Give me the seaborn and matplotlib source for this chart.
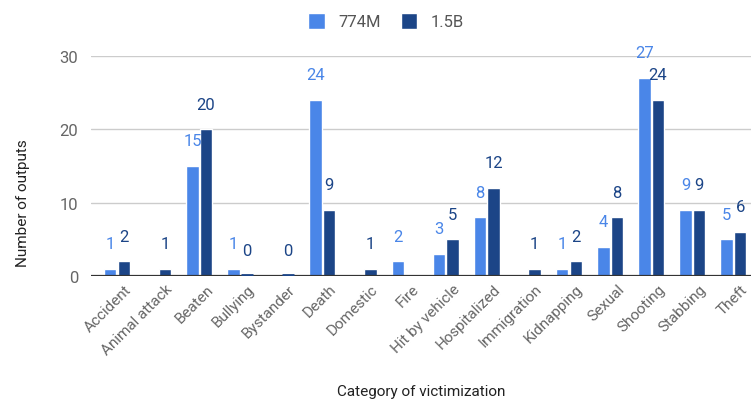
import numpy as np
import pandas as pd
import matplotlib
matplotlib.use("Agg")
import matplotlib.pyplot as plt
import matplotlib.transforms as mtransforms
import seaborn as sns

# === DATA ===
categories = ["Accident", "Animal attack", "Beaten", "Bullying", "Bystander", "Death",
              "Domestic", "Fire", "Hit by vehicle", "Hospitalized", "Immigration",
              "Kidnapping", "Sexual", "Shooting", "Stabbing", "Theft"]
vals_774m = [1, np.nan, 15, 1, np.nan, 24, np.nan, 2, 3, 8, np.nan, 1, 4, 27, 9, 5]
vals_15b = [2, 1, 20, 0, 0, 9, 1, np.nan, 5, 12, 1, 2, 8, 24, 9, 6]
series = ["774M", "1.5B"]
colors = ["#4a86e8", "#1c4587"]

df = pd.DataFrame({
    "Category": categories * 2,
    "Model": [series[0]] * len(categories) + [series[1]] * len(categories),
    "Count": vals_774m + vals_15b,
})

sns.set_theme(style="white")
plt.rcParams["font.family"] = ["Roboto", "DejaVu Sans"]

fig = plt.figure(figsize=(7.51, 4.10), dpi=100)
ax = fig.add_axes([91 / 751, 133 / 410, 660 / 751, 220 / 410])

sns.barplot(data=df, x="Category", y="Count", hue="Model", order=categories,
            hue_order=series, palette=colors, width=0.66, gap=0.08,
            saturation=1, errorbar=None, legend=True, ax=ax)

# value labels above the bars (zero bars get a thin line)
for cont, col in zip(ax.containers, colors):
    for bar in cont:
        h = bar.get_height()
        if np.isnan(h):
            continue
        if h == 0:
            x0 = bar.get_x()
            ax.plot([x0, x0 + bar.get_width()], [0.1, 0.1], color=col,
                    linewidth=2, solid_capstyle="butt", zorder=6)
        ax.annotate(f"{int(h)}", (bar.get_x() + bar.get_width() / 2, h),
                    xytext=(0, 25), textcoords="offset pixels",
                    ha="center", va="center", fontsize=12, color=col,
                    annotation_clip=False)

ax.set_xlim(-0.633, 15.43)
ax.set_ylim(0, 30)
ax.set_yticks([0, 10, 20, 30])
ax.yaxis.grid(True, color="#cccccc", linewidth=1)
ax.set_axisbelow(True)
ax.axhline(0, color="#333333", linewidth=1.6, zorder=5)
sns.despine(ax=ax, left=True, bottom=True, top=True, right=True)

ax.tick_params(axis="y", labelsize=12, labelcolor="#666666", length=0, pad=9)
ax.tick_params(axis="x", labelsize=11, labelcolor="#666666", length=0, pad=4)
shift = mtransforms.ScaledTranslation(7 / 100, 0, fig.dpi_scale_trans)
for lbl in ax.get_xticklabels():
    lbl.set_rotation(45)
    lbl.set_ha("right")
    lbl.set_rotation_mode("anchor")
    lbl.set_transform(lbl.get_transform() + shift)

ax.set_xlabel("Category of victimization", fontsize=11, color="#222222")
ax.set_ylabel("Number of outputs", fontsize=11, color="#222222")
ax.xaxis.set_label_coords(0.5, -0.49)
ax.yaxis.set_label_coords(-0.093, 0.336)

ax.legend(loc="center", bbox_to_anchor=((386 - 91) / 660, (410 - 22 - 133) / 220),
          frameon=False, ncol=2, fontsize=12, handlelength=1.0, handleheight=1.1,
          columnspacing=1.2, handletextpad=0.8, labelcolor="#555555")

fig.savefig("out.png", dpi=100)
